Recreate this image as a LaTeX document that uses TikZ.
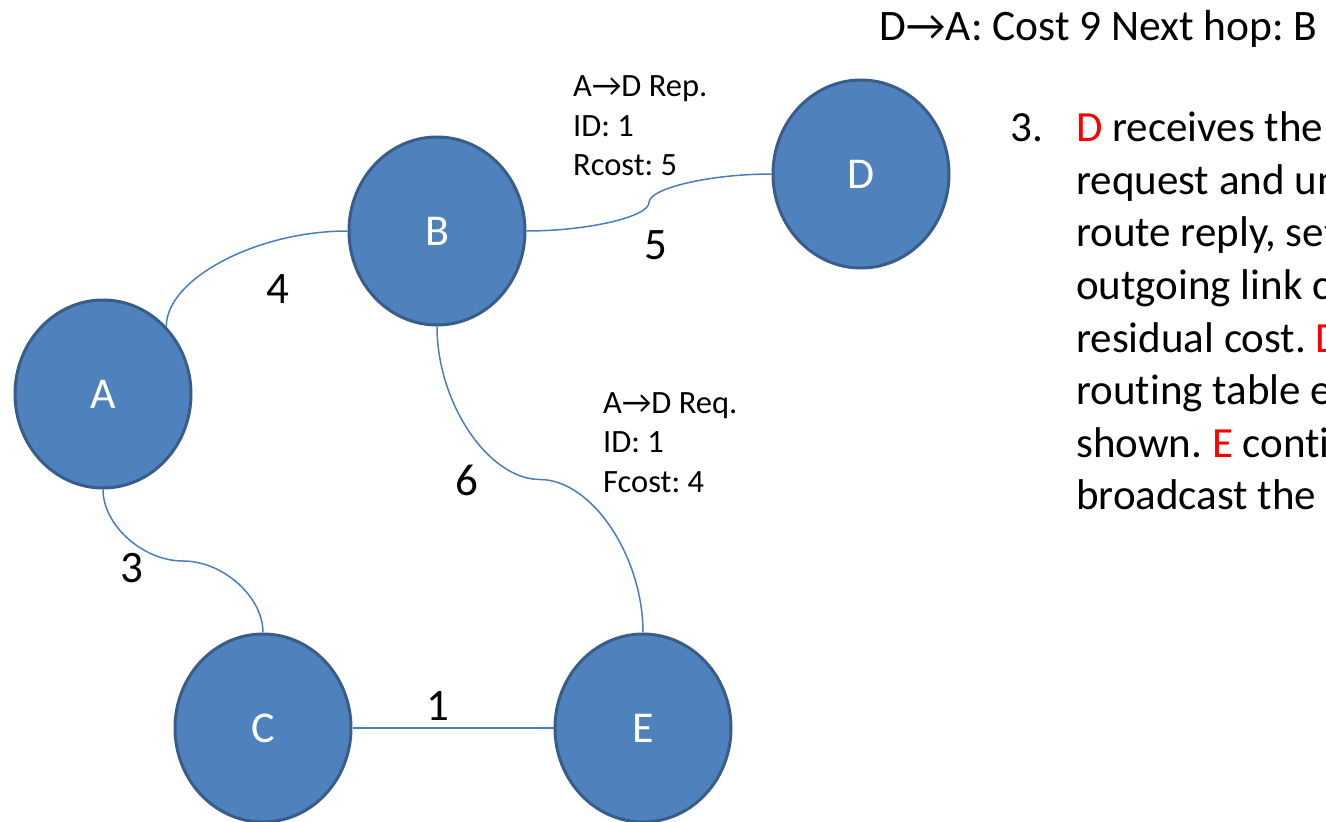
\documentclass[tikz,border=0pt]{standalone}
\usepackage{fontspec}
\setmainfont{Carlito}[Ligatures=NoCommon]
\frenchspacing
\usetikzlibrary{calc,shapes.geometric}
\definecolor{nodefill}{HTML}{4F81BD}
\definecolor{nodeline}{HTML}{385D8A}
\definecolor{linkline}{HTML}{4A7EBB}
\definecolor{hl}{HTML}{FF0000}
\tikzset{
  router/.style={ellipse, fill=nodefill, draw=nodeline, line width=3pt,
    minimum width=176pt, minimum height=188pt, inner sep=0pt,
    text=white, font=\fontsize{44}{53}\selectfont},
  link/.style={draw=linkline, line width=1.5pt},
  cost/.style={inner sep=0pt, font=\fontsize{45}{54}\selectfont},
  msg/.style={inner sep=0pt, anchor=base west, font=\fontsize{32.5}{39.5}\selectfont},
  para/.style={inner sep=0pt, anchor=base west, font=\fontsize{43}{52.6}\selectfont},
}
\begin{document}
\begin{tikzpicture}[x=1pt,y=-1pt]
\useasboundingbox (0,0) rectangle (1326,822);

% routers
\node[router] (A) at (103,394) {A};
\node[router] (B) at (437,231) {B};
\node[router] (D) at (861,174) {D};
\node[router] (C) at (263,728) {C};
\node[router] (E) at (643,728) {E};

% A -- B : bent connector
\coordinate (abM) at ($(A.north east)!0.5!(B.west)$);
\draw[link] (A.north east) .. controls (A.north east |- abM) and (abM |- B.west) .. (B.west);

% B -- D : S-shaped connector, horizontal ends
\coordinate (bdM) at ($(B.east)!0.5!(D.west)$);
\coordinate (bd1) at ($(B.east)!0.5!(bdM)$);
\coordinate (bd2) at ($(bdM)!0.5!(D.west)$);
\draw[link] (B.east) .. controls (bd1 |- B.east) and (bdM |- bd1) .. (bdM)
  .. controls (bdM |- bd2) and (bd2 |- D.west) .. (D.west);

% B -- E : S-shaped connector, vertical ends
\coordinate (beM) at ($(B.south)!0.5!(E.north)$);
\coordinate (be1) at ($(B.south)!0.5!(beM)$);
\coordinate (be2) at ($(beM)!0.5!(E.north)$);
\draw[link] (B.south) .. controls (B.south |- be1) and (be1 |- beM) .. (beM)
  .. controls (be2 |- beM) and (E.north |- be2) .. (E.north);

% A -- C : S-shaped connector, vertical ends
\coordinate (acM) at ($(A.south)!0.5!(C.north)$);
\coordinate (ac1) at ($(A.south)!0.5!(acM)$);
\coordinate (ac2) at ($(acM)!0.5!(C.north)$);
\draw[link] (A.south) .. controls (A.south |- ac1) and (ac1 |- acM) .. (acM)
  .. controls (ac2 |- acM) and (C.north |- ac2) .. (C.north);

% C -- E : straight
\draw[link] (C.east) -- (E.west);

% link costs
\node[cost] (c4) at (277.5,289.5) {4};
\node[cost] (c5) at (656,245) {5};
\node[cost] (c6) at (467,480) {6};
\node[cost] (c3) at (131.5,568) {3};
\node[cost] (c1) at (438,706) {1};

% route reply message
\node[msg] (rep1) at (573,96.5) {A→D Rep.};
\node[msg] (rep2) at (573,136.5) {ID: 1};
\node[msg] (rep3) at (573,175.5) {Rcost: 5};

% route request message
\node[msg] (req1) at (603,413.5) {A→D Req.};
\node[msg] (req2) at (603,452.5) {ID: 1};
\node[msg] (req3) at (603,492.5) {Fcost: 4};

% routing table entry
\node[para, font=\fontsize{43.5}{52.6}\selectfont] (entry) at (879.5,40.7) {D→A: Cost 9 Next hop: B};

% step description, running past the right edge
\begin{scope}
\clip (0,0) rectangle (1326,822);
\node[para] (num) at (1010,141.7) {3.};
\node[para] (s1) at (1076,141.7) {\textcolor{hl}{D} receives the};
\node[para] (s2) at (1076,194.3) {request and unicasts};
\node[para] (s3) at (1076,246.9) {route reply, setting};
\node[para] (s4) at (1076,299.5) {outgoing link cost};
\node[para] (s5) at (1076,352.1) {residual cost. \textcolor{hl}{D}};
\node[para] (s6) at (1076,404.7) {routing table entry};
\node[para] (s7) at (1076,457.3) {shown. \textcolor{hl}{E} continues};
\node[para] (s8) at (1076,509.9) {broadcast the};
\end{scope}
\end{tikzpicture}
\end{document}
